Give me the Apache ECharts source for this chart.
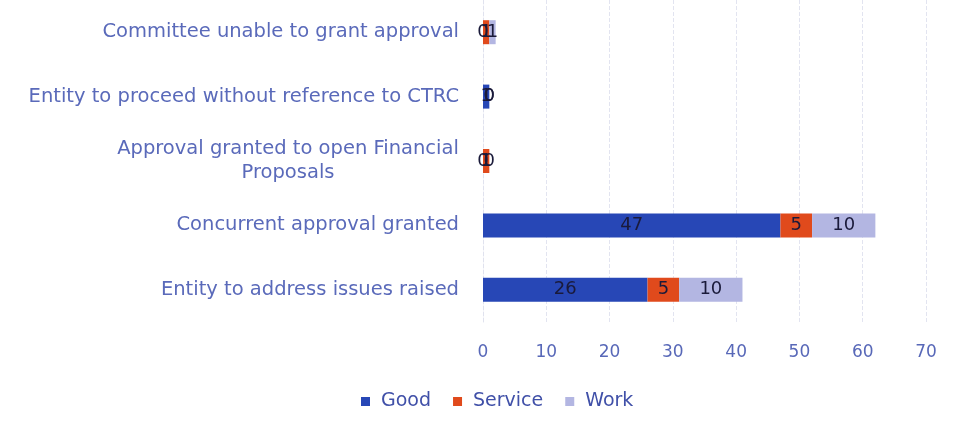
<!DOCTYPE html>
<html><head><meta charset="utf-8">
<script src="https://cdn.jsdelivr.net/npm/echarts@6/dist/echarts.min.js"></script>
<style>html,body{margin:0;padding:0;background:#fff}#c{width:958px;height:436px}</style>
</head><body><div id="c"></div>
<script>
const categories = ['Entity to address issues raised','Concurrent approval granted','Approval granted to open Financial Proposals','Entity to proceed without reference to CTRC','Committee unable to grant approval'];
const good = [26, 47, 0, 1, 0];
const service = [5, 5, 1, 0, 1];
const work = [10, 10, 0, 0, 1];
const xTicks = [0,10,20,30,40,50,60,70];

const chart = echarts.init(document.getElementById('c'));
const font = '"DejaVu Sans", "Open Sans", sans-serif';
const lbl = {show:true, position:'inside', color:'#1a1a3a', fontSize:18, fontFamily:font};
chart.setOption({
  animation:false,
  grid:{left:483, right:32, top:-6, bottom:114, containLabel:false},
  xAxis:{type:'value', min:xTicks[0], max:xTicks[xTicks.length-1], interval:10,
    axisLine:{show:false}, axisTick:{show:false},
    axisLabel:{color:'#5868b8', fontSize:17, fontFamily:font, margin:22},
    splitLine:{show:true, lineStyle:{color:'#e2e4f0', type:'dashed'}}},
  yAxis:{type:'category', data:categories,
    axisLine:{show:true, lineStyle:{color:'#e0e2ee', type:'dashed'}}, axisTick:{show:false},
    axisLabel:{color:'#5a6aba', fontSize:19.5, fontFamily:font, margin:24,
      formatter:function(v){
        if(v.indexOf('Financial')>=0) return '{c|Approval granted to open Financial}\n{c|Proposals}';
        return v;
      },
      rich:{c:{width:342, align:'center', color:'#5a6aba', fontSize:19.5, fontFamily:font, lineHeight:24}}}},
  legend:{bottom:20, left:356, itemWidth:9, itemHeight:9, itemGap:22, icon:'rect',
    textStyle:{color:'#4050a8', fontSize:19, fontFamily:font, padding:[0,0,0,6]}},
  series:[
    {name:'Good', type:'bar', stack:'a', data:good, barWidth:24, itemStyle:{color:'#2747b6'}, label:lbl},
    {name:'Service', type:'bar', stack:'a', data:service, barWidth:24, itemStyle:{color:'#e04a1c'}, label:lbl},
    {name:'Work', type:'bar', stack:'a', data:work, barWidth:24, itemStyle:{color:'#b3b6e2'}, label:lbl}
  ]
});
</script></body></html>
